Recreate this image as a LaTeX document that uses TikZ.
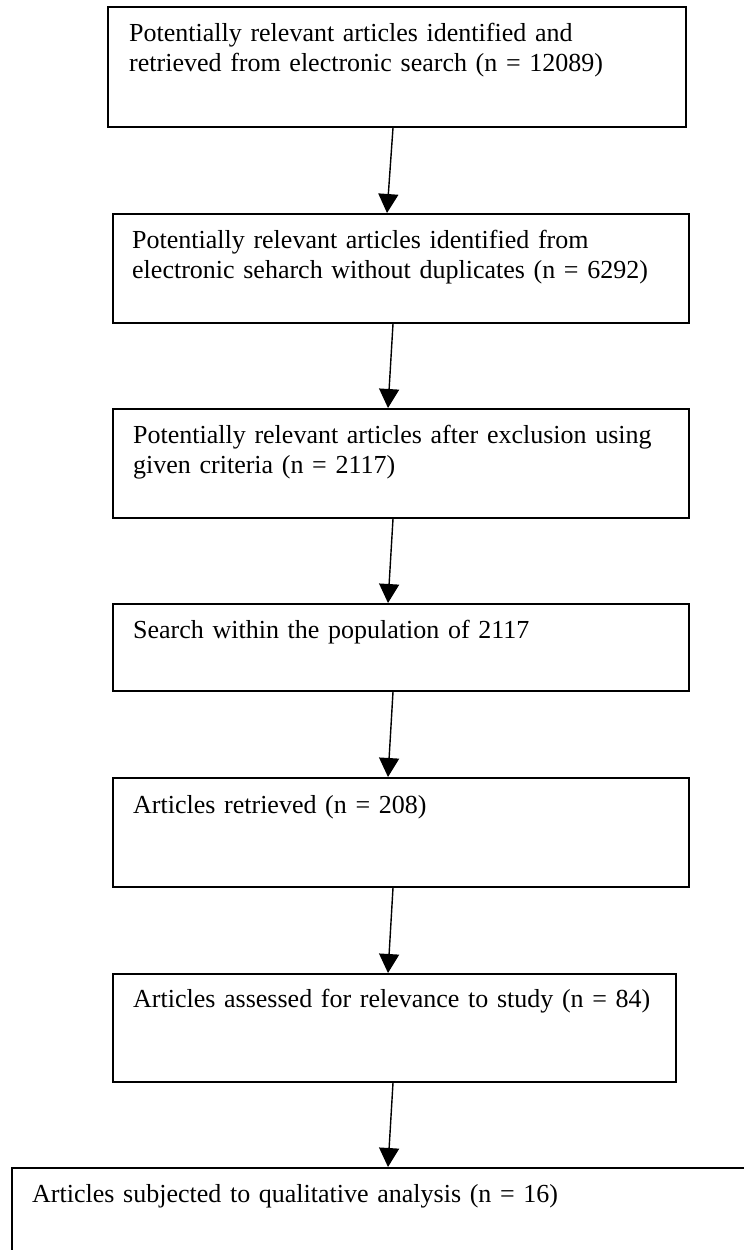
\documentclass[tikz,border=0pt]{standalone}
\usepackage{fontspec}
\setmainfont{Liberation Serif}
\usetikzlibrary{arrows.meta,calc}
\begin{document}
\begin{tikzpicture}[x=1bp,y=-1bp,
  box/.style={draw=black, line width=1.8bp, rectangle, inner sep=0pt, anchor=north west},
  txt/.style={anchor=base west, inner sep=0pt, text width=560bp, align=left,
              font=\fontsize{26bp}{30bp}\selectfont},
  arr/.style={line width=1.4bp, -{Triangle[length=19bp,width=20bp]}}]
\useasboundingbox (0,0) rectangle (744,1250);
\clip (0,0) rectangle (744,1250);
% boxes
\node[box, minimum width=578bp, minimum height=120bp] (b1) at (107,6) {};
\node[box, minimum width=576bp, minimum height=109bp] (b2) at (112,213) {};
\node[box, minimum width=576bp, minimum height=109bp] (b3) at (112,408) {};
\node[box, minimum width=576bp, minimum height=87bp]  (b4) at (112,603) {};
\node[box, minimum width=576bp, minimum height=109bp] (b5) at (112,777) {};
\node[box, minimum width=563bp, minimum height=108bp] (b6) at (112,973) {};
\node[box, minimum width=760bp, minimum height=120bp] (b7) at (11,1167) {};
% texts
\node[txt] (t1) at ($(b1.north west)+(22,35)$) {Potentially relevant articles identified and\\retrieved from electronic search (n = 12089)};
\node[txt] (t2) at ($(b2.north west)+(20,35)$) {Potentially relevant articles identified from\\electronic seharch without duplicates (n = 6292)};
\node[txt] (t3) at ($(b3.north west)+(21,35)$) {Potentially relevant articles after exclusion using\\given criteria (n = 2117)};
\node[txt] (t4) at ($(b4.north west)+(21,35)$) {Search within the population of 2117};
\node[txt] (t5) at ($(b5.north west)+(21,36)$) {Articles retrieved (n = 208)};
\node[txt] (t6) at ($(b6.north west)+(21,34)$) {Articles assessed for relevance to study (n = 84)};
\node[txt] (t7) at ($(b7.north west)+(21,35)$) {Articles subjected to qualitative analysis (n = 16)};
% arrows
\draw[arr] ($(b1.south west)+(286,0)$) -- ($(b2.north west)+(275,0)$);
\draw[arr] ($(b2.south west)+(281,0)$) -- ($(b3.north west)+(276,0)$);
\draw[arr] ($(b3.south west)+(281,0)$) -- ($(b4.north west)+(276,0)$);
\draw[arr] ($(b4.south west)+(281,0)$) -- ($(b5.north west)+(276,0)$);
\draw[arr] ($(b5.south west)+(281,0)$) -- ($(b6.north west)+(276,0)$);
\draw[arr] ($(b6.south west)+(281,0)$) -- ($(b7.north west)+(377,0)$);
\end{tikzpicture}
\end{document}
